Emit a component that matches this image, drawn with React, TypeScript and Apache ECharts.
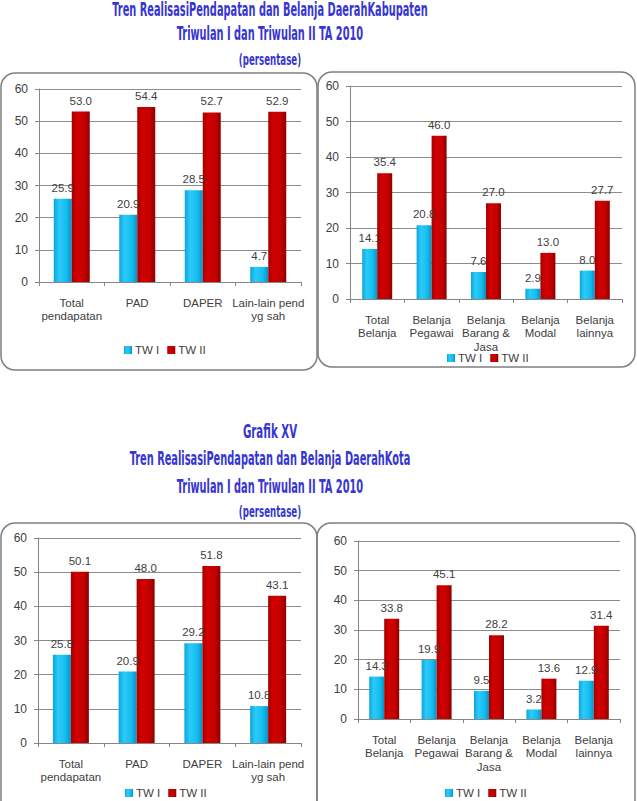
import React, { useEffect, useRef } from "react";
import * as echarts from "echarts";

const pendCategories = ["Total\npendapatan", "PAD", "DAPER", "Lain-lain pend\nyg sah"];
const belCategories = ["Total\nBelanja", "Belanja\nPegawai", "Belanja\nBarang &\nJasa", "Belanja\nModal", "Belanja\nlainnya"];
const seriesNames = ["TW I", "TW II"];

const kabPendTW1 = [25.9, 20.9, 28.5, 4.7];
const kabPendTW2 = [53.0, 54.4, 52.7, 52.9];
const kabBelTW1 = [14.1, 20.8, 7.6, 2.9, 8.0];
const kabBelTW2 = [35.4, 46.0, 27.0, 13.0, 27.7];
const kotaPendTW1 = [25.8, 20.9, 29.2, 10.8];
const kotaPendTW2 = [50.1, 48.0, 51.8, 43.1];
const kotaBelTW1 = [14.3, 19.9, 9.5, 3.2, 12.9];
const kotaBelTW2 = [33.8, 45.1, 28.2, 13.6, 31.4];

const titleKab = ["Tren RealisasiPendapatan dan Belanja DaerahKabupaten", "Triwulan I dan Triwulan II TA 2010", "(persentase)"];
const titleKota = ["Grafik XV", "Tren RealisasiPendapatan dan Belanja DaerahKota", "Triwulan I dan Triwulan II TA 2010", "(persentase)"];

const FONT = "'Liberation Sans', Arial, sans-serif";
const TITLE_FONT = "'DejaVu Sans Condensed', 'DejaVu Sans', sans-serif";
const TITLE_COLOR = "#3636d2";

const cyanGrad = new echarts.graphic.LinearGradient(0, 0, 1, 0, [
  { offset: 0, color: "#0aa6dc" },
  { offset: 0.3, color: "#2ccaf8" },
  { offset: 0.7, color: "#14bdf0" },
  { offset: 1, color: "#0a90c4" },
]);
const redGrad = new echarts.graphic.LinearGradient(0, 0, 1, 0, [
  { offset: 0, color: "#a40000" },
  { offset: 0.3, color: "#d20000" },
  { offset: 0.7, color: "#c40000" },
  { offset: 1, color: "#8e0000" },
]);

export default function App() {
  const ref = useRef<HTMLDivElement>(null);
  useEffect(() => {
    if (!ref.current) return;
    const chart = echarts.init(ref.current, undefined, { renderer: "svg" });

    const grids = [
      { left: 39, right: 336, top: 89, bottom: 519 },
      { left: 350, right: 15, top: 86, bottom: 502 },
      { left: 38, right: 336, top: 538, bottom: 58 },
      { left: 358, right: 17, top: 541, bottom: 82 },
    ];
    const cats = [pendCategories, belCategories, pendCategories, belCategories];
    const data = [
      [kabPendTW1, kabPendTW2],
      [kabBelTW1, kabBelTW2],
      [kotaPendTW1, kotaPendTW2],
      [kotaBelTW1, kotaBelTW2],
    ];
    const barWidths = [18, 15, 18, 15];
    const legendPos = [
      { left: 124, top: 344 },
      { left: 447, top: 352 },
      { left: 125, top: 787 },
      { left: 445, top: 787 },
    ];

    const xAxis = cats.map((c, i) => ({
      type: "category",
      gridIndex: i,
      data: c,
      axisLine: { lineStyle: { color: "#868686", width: 1 } },
      axisTick: { show: true, length: 4, lineStyle: { color: "#868686" } },
      axisLabel: { color: "#404040", fontSize: 11.5, fontFamily: FONT, lineHeight: 13.5, margin: 14, interval: 0 },
    }));
    const yAxis = cats.map((_, i) => ({
      type: "value",
      gridIndex: i,
      min: 0,
      max: 60,
      interval: 10,
      axisLine: { show: true, lineStyle: { color: "#868686", width: 1 } },
      axisTick: { show: true, length: 4, lineStyle: { color: "#868686" } },
      splitLine: { lineStyle: { color: "#8c8c8c", width: 1 } },
      axisLabel: { color: "#404040", fontSize: 12, fontFamily: FONT, margin: 11 },
    }));

    const series: any[] = [];
    data.forEach((pair, i) => {
      pair.forEach((vals, j) => {
        series.push({
          type: "bar",
          name: seriesNames[j],
          xAxisIndex: i,
          yAxisIndex: i,
          data: vals,
          barWidth: barWidths[i],
          barGap: "0%",
          itemStyle: { color: j === 0 ? cyanGrad : redGrad },
          label: {
            show: true,
            position: "top",
            distance: 5,
            color: "#404040",
            fontSize: 11.5,
            fontFamily: FONT,
            formatter: (p: any) => Number(p.value).toFixed(1),
          },
        });
      });
    });

    const legend = legendPos.map((p) => ({
      data: seriesNames,
      left: p.left,
      top: p.top,
      padding: 0,
      itemWidth: 8,
      itemHeight: 8,
      itemGap: 8,
      icon: "rect",
      textStyle: { color: "#404040", fontSize: 11.5, fontFamily: FONT, padding: [0, 0, 0, -2] },
    }));

    const titleText = (text: string, y: number, size: number, sx: number) => ({
      type: "text",
      x: 270,
      y,
      scaleX: sx,
      style: {
        text,
        fontSize: size,
        fontWeight: "bold",
        fontFamily: TITLE_FONT,
        fill: TITLE_COLOR,
        align: "center",
        verticalAlign: "middle",
      },
    });

    const box = (x: number, y: number, w: number, h: number) => ({
      type: "rect",
      shape: { x, y, width: w, height: h, r: 14 },
      style: { fill: "none", stroke: "#7f7f7f", lineWidth: 1.5 },
      z: -1,
    });

    chart.setOption({
      animation: false,
      backgroundColor: "#ffffff",
      grid: grids,
      xAxis,
      yAxis,
      series,
      legend,
      graphic: [
        box(1, 73, 316, 297),
        box(318, 72, 317, 295),
        box(1, 523, 316, 300),
        box(317, 523, 318, 300),
        titleText(titleKab[0], 10, 19, 0.575),
        titleText(titleKab[1], 34, 19, 0.575),
        titleText(titleKab[2], 60, 15.5, 0.62),
        titleText(titleKota[0], 431, 19, 0.6),
        titleText(titleKota[1], 459, 19, 0.575),
        titleText(titleKota[2], 487, 19, 0.575),
        titleText(titleKota[3], 512, 15.5, 0.62),
      ],
    });
    return () => chart.dispose();
  }, []);

  return (
    <div
      ref={ref}
      style={{ position: "fixed", left: 0, top: 0, width: 637, height: 801, background: "#fff" }}
    />
  );
}
